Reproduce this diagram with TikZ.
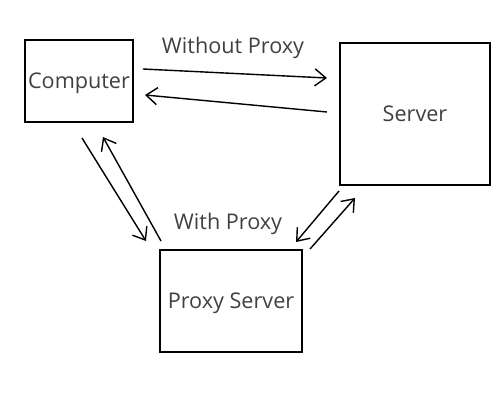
\documentclass[tikz,border=0pt]{standalone}
\usepackage{fontspec}
\setmainfont{Open Sans}
\usetikzlibrary{arrows.meta, positioning}

\begin{document}
\begin{tikzpicture}[x=0.02cm, y=-0.02cm, font=\fontsize{12.3}{15}\selectfont,
    box/.style={draw, line width=0.6pt, inner sep=0pt, text=black!75, text depth=-0.06cm},
    link/.style={-{Straight Barb[length=2.2mm, width=3.4mm]}, line width=0.8pt},
    tag/.style={text=black!75}]
  \useasboundingbox (0,0) rectangle (500,400);

  % the three machines
  \node[box, minimum width=2.16cm, minimum height=1.64cm] (computer) at (79,81) {Computer};
  \node[box, minimum width=3.0cm, minimum height=2.84cm] (server) at (415,114) {Server};
  \node[box, minimum width=2.84cm, minimum height=2.04cm] (proxy) at (231,301) {Proxy Server};

  % labels
  \node[tag] (noproxy) at (233,48) {Without Proxy};
  \node[tag] (withproxy) at (228,224) {With Proxy};

  % arrow ends
  \coordinate (c1) at (143,69);  \coordinate (s1) at (327,78);
  \coordinate (s2) at (327,112); \coordinate (c2) at (145,95);
  \coordinate (c3) at (82,138);  \coordinate (p3) at (146,241);
  \coordinate (p4) at (161,241); \coordinate (c4) at (103,137);
  \coordinate (s5) at (339,191); \coordinate (p5) at (296,242);
  \coordinate (p6) at (310,249); \coordinate (s6) at (355,198);

  % direct
  \draw[link] (c1) -- (s1);
  \draw[link] (s2) -- (c2);
  % through the proxy
  \draw[link] (c3) -- (p3);
  \draw[link] (p4) -- (c4);
  \draw[link] (s5) -- (p5);
  \draw[link] (p6) -- (s6);
\end{tikzpicture}
\end{document}
